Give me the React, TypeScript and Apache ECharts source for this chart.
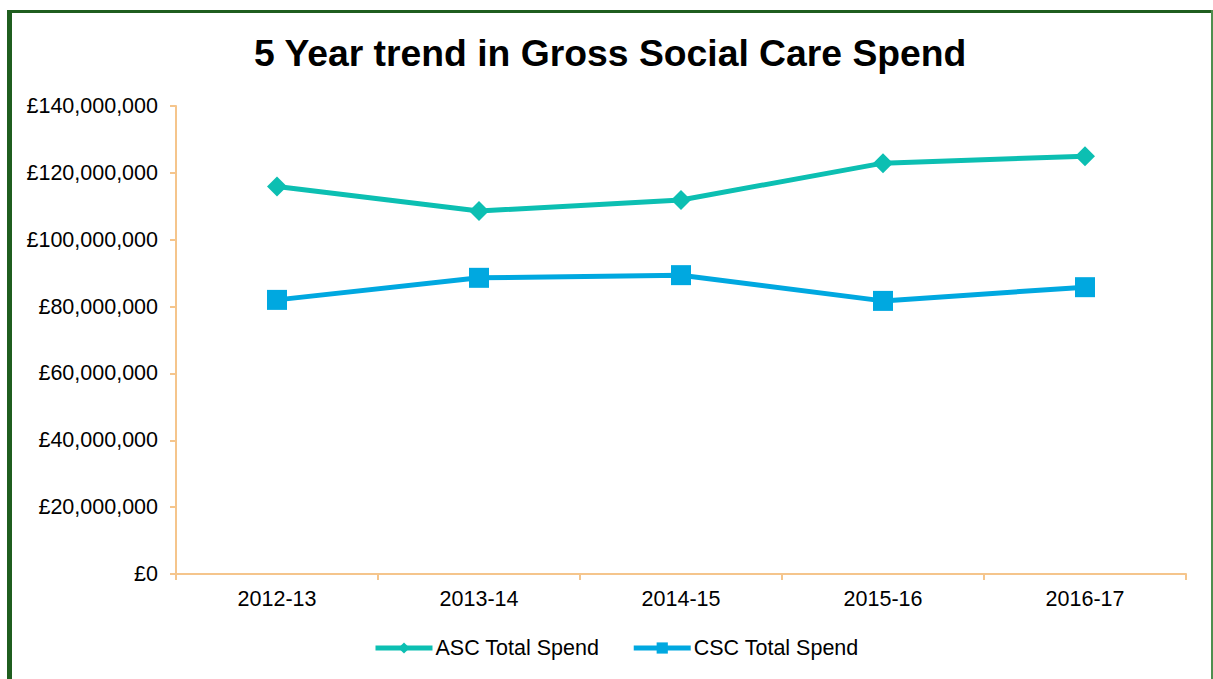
import React, { useEffect, useRef } from "react";
import * as echarts from "echarts";

const categories = ["2012-13", "2013-14", "2014-15", "2015-16", "2016-17"];
const ascSpend = [115900000, 108600000, 111900000, 122900000, 125000000];
const cscSpend = [82000000, 88600000, 89400000, 81700000, 85800000];
const yTicks = { min: 0, max: 140000000, interval: 20000000 };

const FONT = "'Liberation Sans', Arial, sans-serif";
const AXIS_COLOR = "#F5C58C";

function money(v: number): string {
  return "£" + String(Math.round(v)).replace(/\B(?=(\d{3})+(?!\d))/g, ",");
}

export default function App() {
  const ref = useRef<HTMLDivElement>(null);
  useEffect(() => {
    if (!ref.current) return;
    const chart = echarts.init(ref.current, null, { renderer: "svg" });
    chart.setOption({
      animation: false,
      backgroundColor: "#ffffff",
      title: {
        text: "5 Year trend in Gross Social Care Spend",
        left: 249,
        top: 29,
        textStyle: { fontFamily: FONT, fontSize: 37.3, fontWeight: "bold", color: "#000" },
      },
      legend: {
        top: 632,
        left: 368,
        itemWidth: 57,
        itemHeight: 14,
        itemGap: 32,
        lineStyle: { width: 5 },
        textStyle: { fontFamily: FONT, fontSize: 21.5, color: "#000", padding: [0, 0, 0, -2] },
        data: ["ASC Total Spend", "CSC Total Spend"],
      },
      grid: { left: 176, right: 27, top: 106, bottom: 105, containLabel: false },
      xAxis: {
        type: "category",
        data: categories,
        boundaryGap: true,
        axisLine: { lineStyle: { color: AXIS_COLOR, width: 2 } },
        axisTick: { show: true, length: 6, lineStyle: { color: AXIS_COLOR, width: 2 } },
        axisLabel: { fontFamily: FONT, fontSize: 21.5, color: "#000", margin: 14 },
        splitLine: { show: false },
      },
      yAxis: {
        type: "value",
        min: yTicks.min,
        max: yTicks.max,
        interval: yTicks.interval,
        axisLine: { show: true, lineStyle: { color: AXIS_COLOR, width: 2 } },
        axisTick: { show: true, length: 6, lineStyle: { color: AXIS_COLOR, width: 2 } },
        axisLabel: { fontFamily: FONT, fontSize: 21.5, color: "#000", margin: 18, formatter: money },
        splitLine: { show: false },
      },
      series: [
        {
          name: "ASC Total Spend",
          type: "line",
          data: ascSpend,
          symbol: "diamond",
          symbolSize: 20,
          lineStyle: { color: "#0CBFB2", width: 5 },
          itemStyle: { color: "#0CBFB2" },
        },
        {
          name: "CSC Total Spend",
          type: "line",
          data: cscSpend,
          symbol: "rect",
          symbolSize: 20,
          lineStyle: { color: "#00A8E0", width: 5 },
          itemStyle: { color: "#00A8E0" },
        },
      ],
      graphic: [
        { type: "rect", shape: { x: 7, y: 10, width: 1206, height: 3 }, style: { fill: "#1F5E1F" }, silent: true },
        { type: "rect", shape: { x: 7, y: 10, width: 5, height: 669 }, style: { fill: "#1F5E1F" }, silent: true },
        { type: "rect", shape: { x: 1211, y: 10, width: 2, height: 669 }, style: { fill: "#4F8F4F" }, silent: true },
      ],
    });
    return () => chart.dispose();
  }, []);
  return (
    <div
      ref={ref}
      style={{ position: "fixed", left: 0, top: 0, width: 1213, height: 679 }}
    />
  );
}
